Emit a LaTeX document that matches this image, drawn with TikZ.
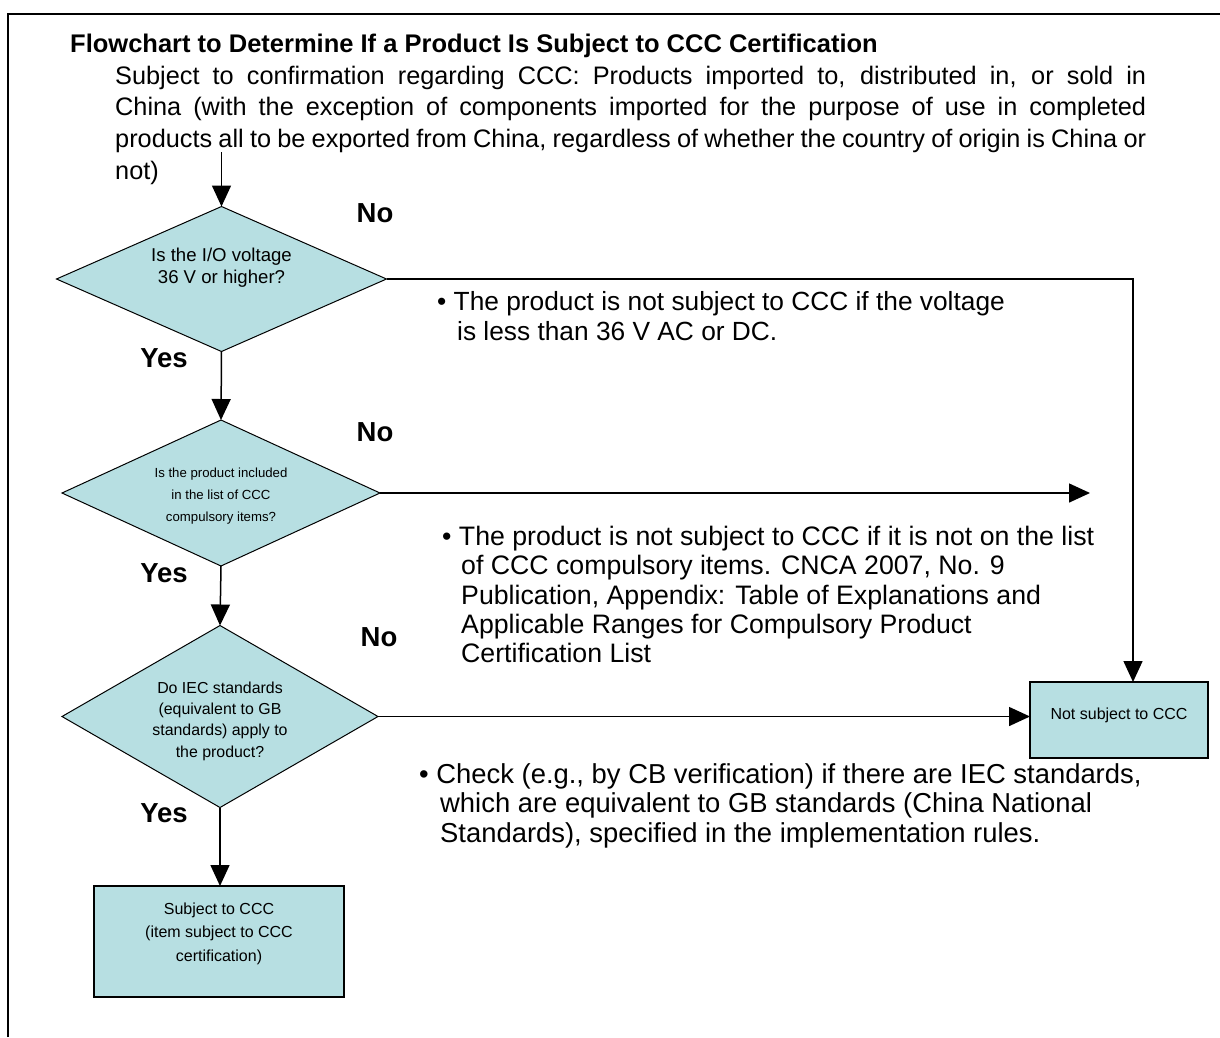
\documentclass[tikz,border=0pt]{standalone}
\usepackage{fontspec}
\setmainfont{Liberation Sans}
\usetikzlibrary{shapes.geometric,arrows.meta}
\definecolor{boxfill}{RGB}{183,223,226}
\newcommand{\fullline}[1]{\makebox[1031pt][s]{#1}}
\begin{document}
\begin{tikzpicture}[x=1pt,y=-1pt,
  dia/.style={diamond, draw=black, fill=boxfill, line width=1pt, inner sep=0pt, outer sep=0pt},
  term/.style={rectangle, draw=black, fill=boxfill, line width=1.8pt, inner sep=0pt, outer sep=0pt},
  flow/.style={line width=1.5pt, -{Triangle[length=21pt,width=19pt]}},
  yn/.style={font=\fontsize{27.5}{30}\selectfont\bfseries, inner sep=0pt},
  note/.style={align=left, anchor=north west, inner sep=0pt},
  dtext/.style={align=center, inner sep=0pt},
]
\useasboundingbox (0,0) rectangle (1220,1037);
\draw[line width=2pt] (8,1037) -- (8,14) -- (1221,14);

\node[anchor=west, inner sep=0pt, font=\fontsize{25.5}{28}\selectfont\bfseries] (title) at (70,46)
  {Flowchart to Determine If a Product Is Subject to CCC Certification};
\node[anchor=north west, inner sep=0pt, align=left,
      font=\fontsize{25.3}{31.7}\selectfont] (intro) at (115,65.5)
  {\fullline{Subject to confirmation regarding CCC: Products imported to, distributed in, or sold in}\\
   \fullline{China (with the exception of components imported for the purpose of use in completed}\\
   \fullline{products all to be exported from China, regardless of whether the country of origin is China or}\\
   not)};

\node[dia, minimum width=330pt, minimum height=145pt] (d1) at (221.5,279) {};
\node[dtext, font=\fontsize{18.6}{22}\selectfont] at (221.5,268) {Is the I/O voltage\\36 V or higher?};
\node[dia, minimum width=318pt, minimum height=146pt] (d2) at (221,493) {};
\node[dtext, font=\fontsize{13.2}{22}\selectfont] at (221,496) {Is the product included\\in the list of CCC\\compulsory items?};
\node[dia, minimum width=316pt, minimum height=182pt] (d3) at (220,716.5) {};
\node[dtext, font=\fontsize{15.9}{21.3}\selectfont] at (220,721) {Do IEC standards\\(equivalent to GB\\standards) apply to\\the product?};

\node[term, minimum width=250pt, minimum height=111pt] (sc) at (219,941.5) {};
\node[dtext, font=\fontsize{16}{23.5}\selectfont] at (219,933.5) {Subject to CCC\\(item subject to CCC\\certification)};
\node[term, minimum width=178pt, minimum height=76pt] (ns) at (1119,720) {};
\node[dtext, font=\fontsize{16}{18}\selectfont] at (1119,715) {Not subject to CCC};

\coordinate (start) at (221.5,152);
\coordinate (e2) at (1090,493);
\draw[flow] (start) -- (d1.north);
\draw[flow] (d1.east) -| ([xshift=14pt]ns.north);
\draw[flow] (d1.south) -- (d2.north);
\draw[flow] (d2.east) -- (e2);
\draw[flow] (d2.south) -- (d3.north);
\draw[flow] (d3.east) -- (ns.west |- d3.east);
\draw[flow] (d3.south) -- (d3.south |- sc.north);

\node[yn] at (375,213) {No};
\node[yn] at (375,432) {No};
\node[yn] at (379,637) {No};
\node[yn] at (164,358) {Yes};
\node[yn] at (164,573) {Yes};
\node[yn] at (164,813) {Yes};

\node[note, font=\fontsize{26.3}{30}\selectfont] (n1) at (437,291)
  {\textbullet\ The product is not subject to CCC if the voltage\\
   \hspace*{20pt}is less than 36 V AC or DC.};
\node[note, font=\fontsize{26.7}{29.3}\selectfont] (n2) at (442,526)
  {\textbullet\ The product is not subject to CCC if it is not on the list\\
   \hspace*{19pt}of CCC compulsory items. CNCA 2007, No. 9\\
   \hspace*{19pt}Publication, Appendix: Table of Explanations and\\
   \hspace*{19pt}Applicable Ranges for Compulsory Product\\
   \hspace*{19pt}Certification List};
\node[note, font=\fontsize{27.4}{29.5}\selectfont] (n3) at (419,763)
  {\textbullet\ Check (e.g., by CB verification) if there are IEC standards,\\
   \hspace*{21pt}which are equivalent to GB standards (China National\\
   \hspace*{21pt}Standards), specified in the implementation rules.};
\end{tikzpicture}
\end{document}
